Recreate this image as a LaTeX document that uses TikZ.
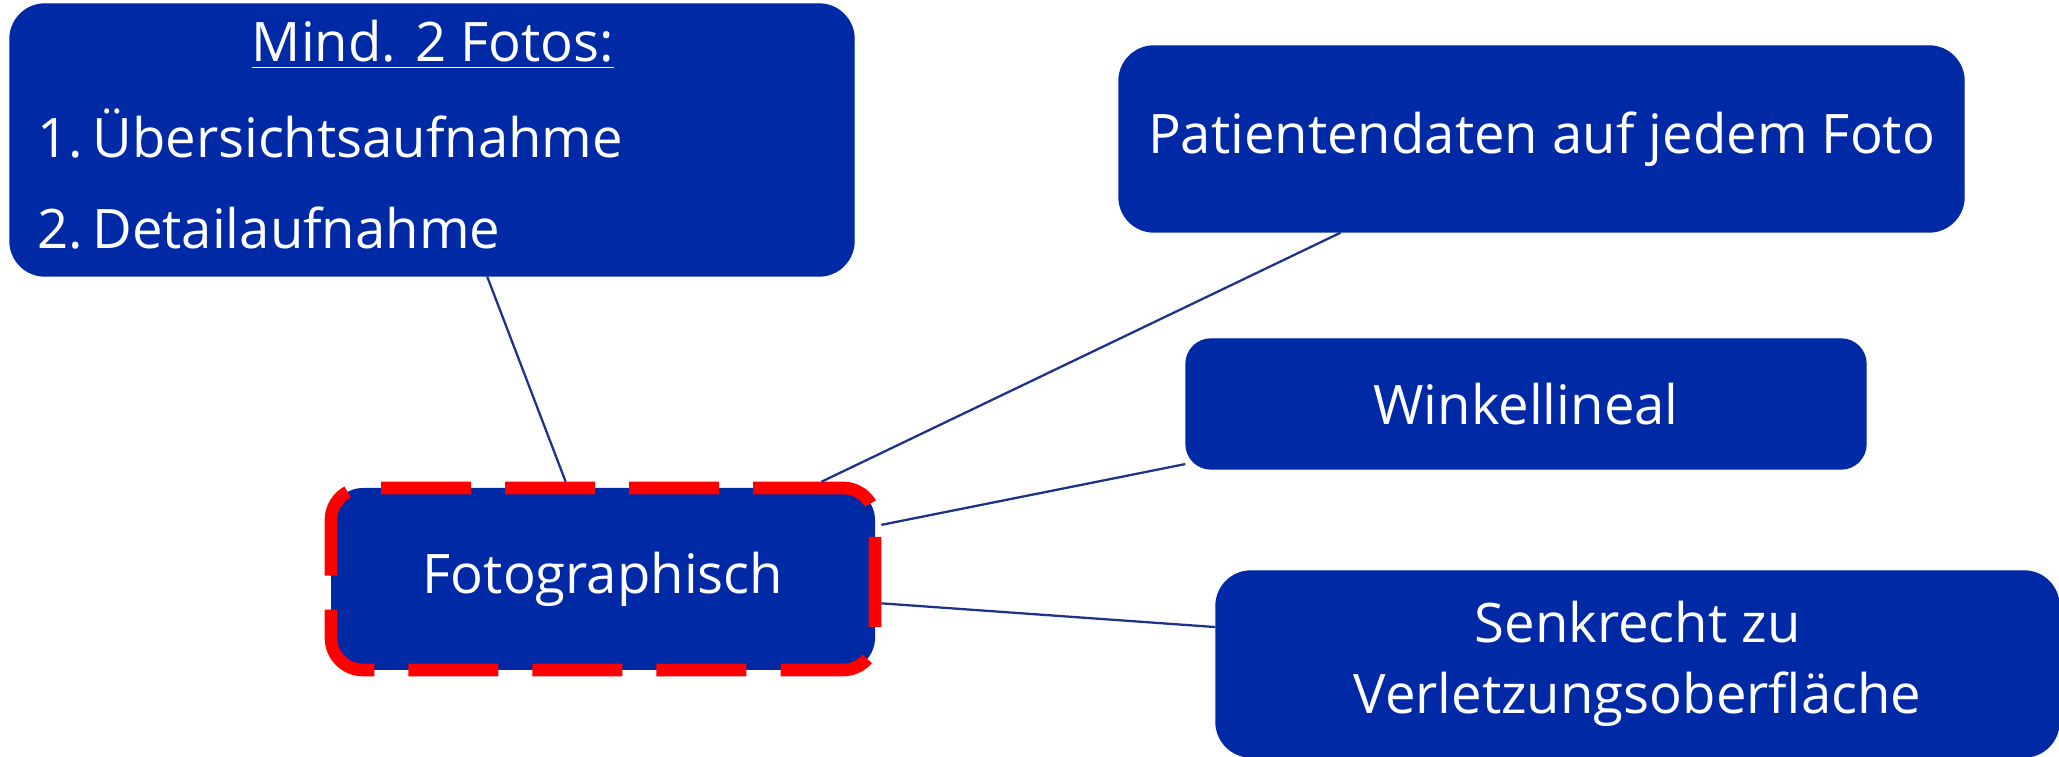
\documentclass[tikz,border=0pt]{standalone}
\usepackage{fontspec}
\setmainfont{Open Sans}
\definecolor{boxblue}{RGB}{0,41,165}
\definecolor{linkblue}{RGB}{30,50,140}
\definecolor{dashred}{RGB}{255,0,0}

\begin{document}
\begin{tikzpicture}[
  box/.style={rounded corners=0.35cm, fill=boxblue, draw=boxblue, text=white,
    font=\fontsize{15.5}{19}\selectfont, align=center, inner sep=0pt},
  boxtext/.style={text=white, inner sep=0pt, font=\fontsize{15.5}{19}\selectfont},
  focus/.style={box, rounded corners=0.32cm, draw=dashred, line width=3.6pt,
    dash pattern=on 0.9cm off 0.34cm},
  link/.style={draw=linkblue, line width=0.65pt}
]
  \useasboundingbox (0,0) rectangle (20.59,7.57);
  % Kasten oben links
  \node[box, minimum width=8.44cm, minimum height=2.72cm] (fotos) at (4.32,6.17) {};
  \node[boxtext, anchor=base] (titel) at (4.33,6.95) {\underline{Mind. 2 Fotos:}};
  \node[boxtext, anchor=base west] (punkt1) at (0.37,5.99) {1.\,Übersichtsaufnahme};
  \node[boxtext, anchor=base west] (punkt2) at (0.37,5.08) {2.\,Detailaufnahme};
  % rechte Kaesten
  \node[box, minimum width=8.45cm, minimum height=1.86cm] (patient) at (15.415,6.18) {Patientendaten auf jedem Foto};
  \node[box, minimum width=6.80cm, minimum height=1.30cm, rounded corners=0.25cm] (winkel) at (15.26,3.53) {Winkellineal};
  \node[box, minimum width=8.43cm, minimum height=1.86cm] (senkrecht) at (16.375,0.93) {Senkrecht zu\\[1pt]Verletzungsoberfläche};
  % Mitte
  \node[focus, minimum width=5.44cm, minimum height=1.82cm] (foto) at (6.03,1.78) {Fotographisch};
  % Verbindungen
  \draw[link] (fotos.-68) -- (foto.111.6);
  \draw[link] (patient.205) -- (foto.24.8);
  \draw[link] (winkel.190.8) -- (foto.11.2);
  \draw[link] (senkrecht.175.3) -- (foto.-5);
\end{tikzpicture}
\end{document}
